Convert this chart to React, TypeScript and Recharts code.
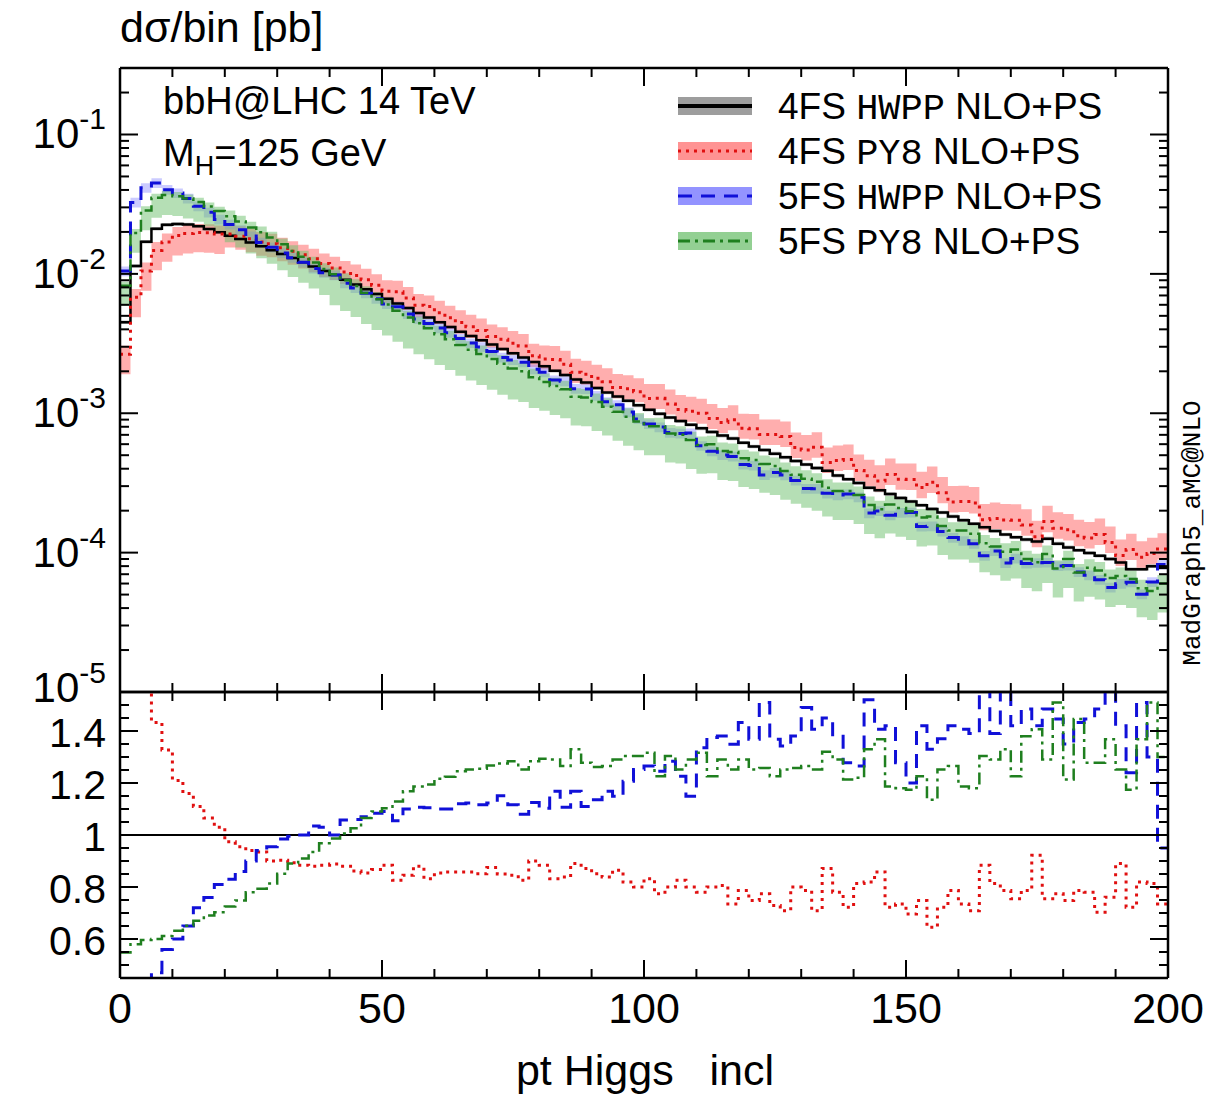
import React from 'react'
import { ComposedChart, Line, Area, XAxis, YAxis, ReferenceLine } from 'recharts'

// 100 bins of 2 GeV, 0-200 GeV
const BIN_WIDTH = 2

// 4FS HWPP NLO+PS, d sigma / bin [pb]
const black = [
  0.0045, 0.0114, 0.017, 0.0211, 0.0225, 0.0228, 0.0226, 0.022, 0.021, 0.0199,
  0.0188, 0.0178, 0.0168, 0.0158, 0.0148, 0.0139, 0.013, 0.0121, 0.0113, 0.0105,
  0.0098, 0.00907, 0.00839, 0.00776, 0.00718, 0.00664, 0.00614, 0.00568, 0.00525, 0.00486,
  0.00449, 0.00416, 0.00385, 0.00358, 0.00334, 0.00311, 0.00289, 0.00269, 0.00251, 0.00233,
  0.00217, 0.00202, 0.00188, 0.00175, 0.00166, 0.00152, 0.00141, 0.00132, 0.00123, 0.00114,
  0.00106, 0.00099, 0.000933, 0.000879, 0.000828, 0.00078, 0.000735, 0.000692, 0.00066, 0.000614,
  0.000578, 0.000545, 0.000513, 0.000483, 0.000455, 0.000429, 0.000404, 0.000386, 0.000357, 0.000336,
  0.000316, 0.000292, 0.00028, 0.000263, 0.000247, 0.000233, 0.000219, 0.000206, 0.000194, 0.000182,
  0.000171, 0.000161, 0.000152, 0.000143, 0.000135, 0.000129, 0.000124, 0.00012, 0.000126, 0.000116,
  0.000109, 0.000104, 0.0000995, 0.000095, 0.00009, 0.000085, 0.000076, 0.000076, 0.00008, 0.000078,
]

// lower panel: 4FS HWPP / X, per bin
const ratioRed = [
  1.7, 1.68, 1.62, 1.433, 1.327, 1.21, 1.16, 1.11, 1.065, 1.03,
  0.974, 0.955, 0.94, 0.935, 0.9, 0.903, 0.893, 0.884, 0.88, 0.884,
  0.888, 0.88, 0.862, 0.854, 0.867, 0.884, 0.826, 0.845, 0.88, 0.832,
  0.854, 0.858, 0.858, 0.858, 0.851, 0.875, 0.85, 0.845, 0.826, 0.9,
  0.884, 0.832, 0.838, 0.89, 0.871, 0.851, 0.838, 0.864, 0.819, 0.8,
  0.832, 0.774, 0.8, 0.826, 0.8, 0.78, 0.8, 0.806, 0.735, 0.787,
  0.748, 0.774, 0.729, 0.709, 0.8, 0.787, 0.709, 0.871, 0.78, 0.722,
  0.813, 0.819, 0.858, 0.722, 0.735, 0.696, 0.748, 0.645, 0.722, 0.787,
  0.735, 0.709, 0.884, 0.813, 0.787, 0.755, 0.787, 0.922, 0.755, 0.774,
  0.748, 0.787, 0.78, 0.703, 0.761, 0.89, 0.722, 0.819, 0.813, 0.735,
]
const ratioBlue = [
  0.43, 0.35, 0.41, 0.47, 0.56, 0.6, 0.65, 0.72, 0.76, 0.81,
  0.83, 0.86, 0.9, 0.94, 0.955, 0.985, 0.995, 1.0, 1.035, 1.03,
  1.0, 1.058, 1.06, 1.07, 1.084, 1.09, 1.055, 1.1, 1.107, 1.105,
  1.1, 1.1, 1.12, 1.123, 1.116, 1.123, 1.151, 1.116, 1.08, 1.125,
  1.103, 1.168, 1.107, 1.168, 1.11, 1.136, 1.168, 1.149, 1.207, 1.252,
  1.265, 1.245, 1.284, 1.226, 1.149, 1.336, 1.375, 1.381, 1.349, 1.433,
  1.368, 1.51, 1.368, 1.342, 1.381, 1.49, 1.407, 1.45, 1.38, 1.278,
  1.265, 1.52, 1.407, 1.42, 1.278, 1.2, 1.42, 1.33, 1.37, 1.42,
  1.407, 1.39, 1.6, 1.39, 1.6, 1.42, 1.485, 1.42, 1.485, 1.446,
  1.35, 1.433, 1.446, 1.485, 1.6, 1.42, 1.239, 1.51, 1.3, 0.95,
]
const ratioGreen = [
  0.548, 0.58, 0.596, 0.6, 0.612, 0.632, 0.651, 0.67, 0.69, 0.703,
  0.725, 0.748, 0.78, 0.793, 0.813, 0.851, 0.89, 0.91, 0.935, 0.968,
  0.987, 1.006, 1.026, 1.065, 1.09, 1.103, 1.129, 1.168, 1.187, 1.194,
  1.216, 1.224, 1.245, 1.252, 1.255, 1.267, 1.275, 1.284, 1.252, 1.284,
  1.293, 1.29, 1.265, 1.33, 1.278, 1.262, 1.265, 1.29, 1.304, 1.304,
  1.316, 1.226, 1.304, 1.252, 1.29, 1.316, 1.226, 1.29, 1.252, 1.29,
  1.252, 1.258, 1.226, 1.252, 1.258, 1.265, 1.252, 1.32, 1.29, 1.213,
  1.22, 1.33, 1.368, 1.187, 1.18, 1.174, 1.226, 1.136, 1.252, 1.265,
  1.187, 1.18, 1.304, 1.29, 1.33, 1.226, 1.38, 1.407, 1.29, 1.51,
  1.213, 1.446, 1.278, 1.278, 1.368, 1.252, 1.174, 1.368, 1.51, 1.3,
]

// uncertainty bands, relative to the central value, one entry per 20 GeV
const redBandUp = [1.15, 1.18, 1.2, 1.22, 1.25, 1.27, 1.28, 1.3, 1.3, 1.3]
const redBandDown = [0.72, 0.8, 0.82, 0.83, 0.84, 0.84, 0.84, 0.84, 0.84, 0.84]
const greenBandUp = [1.07, 1.1, 1.12, 1.15, 1.15, 1.15, 1.15, 1.15, 1.15, 1.15]
const greenBandDown = [0.72, 0.65, 0.6, 0.6, 0.62, 0.62, 0.62, 0.62, 0.62, 0.62]
const blueBandUp = [1.08, 1.08, 1.08, 1.08, 1.08, 1.08, 1.08, 1.08, 1.08, 1.08]
const blueBandDown = [0.92, 0.92, 0.92, 0.92, 0.92, 0.92, 0.92, 0.92, 0.92, 0.92]
const blackBandUp = [1.03, 1.03, 1.03, 1.03, 1.03, 1.03, 1.03, 1.03, 1.03, 1.03]
const blackBandDown = [0.97, 0.97, 0.97, 0.97, 0.97, 0.97, 0.97, 0.97, 0.97, 0.97]

const X_TICKS = [0, 10, 20, 30, 40, 50, 60, 70, 80, 90, 100, 110, 120, 130, 140, 150, 160, 170, 180, 190, 200]
const DECADES = [1e-5, 1e-4, 1e-3, 1e-2, 1e-1]
const LOG_TICKS = DECADES.flatMap(d => [1, 2, 3, 4, 5, 6, 7, 8, 9].map(m => m * d)).filter(v => v <= 0.3)
const RATIO_TICKS = Array.from({ length: 23 }, (_, i) => Math.round((0.45 + i * 0.05) * 100) / 100)
const RATIO_LABELS = [0.6, 0.8, 1, 1.2, 1.4]

const LEGEND = [
  { pre: '4FS ', mono: 'HWPP', post: ' NLO+PS', color: '#000000', band: '#8c8c8c', dash: undefined, width: 4 },
  { pre: '4FS ', mono: 'PY8', post: ' NLO+PS', color: '#e01010', band: '#ff8080', dash: '3 5', width: 3 },
  { pre: '5FS ', mono: 'HWPP', post: ' NLO+PS', color: '#1010d8', band: '#8080ff', dash: '14 9', width: 3 },
  { pre: '5FS ', mono: 'PY8', post: ' NLO+PS', color: '#1f7f1f', band: '#80c880', dash: '12 5 3 5', width: 3 },
]

const rows = black.map((b, i) => {
  const k = Math.floor(i / 10)
  const red = b / ratioRed[i]
  const blue = b / ratioBlue[i]
  const green = b / ratioGreen[i]
  return {
    pt: i * BIN_WIDTH,
    black: b,
    red,
    blue,
    green,
    blackBand: [b * blackBandDown[k], b * blackBandUp[k]],
    redBand: [red * redBandDown[k], red * redBandUp[k]],
    blueBand: [blue * blueBandDown[k], blue * blueBandUp[k]],
    greenBand: [green * greenBandDown[k], green * greenBandUp[k]],
    rRed: ratioRed[i],
    rBlue: ratioBlue[i],
    rGreen: ratioGreen[i],
  }
})
// close the last bin at 200 GeV
rows.push({ ...rows[rows.length - 1], pt: 100 * BIN_WIDTH })

const W = 1215
const H = 1100
const PLOT_L = 120
const PLOT_R = 1168
const TOP_T = 68
const SPLIT = 692
const BOT_B = 978
const AXIS_PX = 1 // axes need a non-zero size to be drawn

const SANS = '"Liberation Sans", Arial, Helvetica, sans-serif'
const MONO = '"Liberation Mono", "DejaVu Sans Mono", monospace'
const AX = { stroke: '#000', strokeWidth: 2.5 }

const isDecade = (v: number) => Math.abs(Math.log10(v) - Math.round(Math.log10(v))) < 1e-9
const isRatioMajor = (v: number) => Math.abs(v * 5 - Math.round(v * 5)) < 1e-6

function bottomTick(withLabel: boolean) {
  return (props: any) => {
    const { x, y, payload } = props
    const major = payload.value % 50 === 0
    return (
      <g>
        <line x1={x} x2={x} y1={y} y2={y - (major ? 18 : 9)} stroke="#000" strokeWidth={2} />
        {withLabel && major && (
          <text x={x} y={y + 45} textAnchor="middle" fontFamily={SANS} fontSize={43} fill="#000">
            {payload.value}
          </text>
        )}
      </g>
    )
  }
}

function topTick(props: any) {
  const { x, y, payload } = props
  const major = payload.value % 50 === 0
  return <line x1={x} x2={x} y1={y} y2={y + (major ? 18 : 9)} stroke="#000" strokeWidth={2} />
}

function logTickLeft(props: any) {
  const { x, y, payload } = props
  const v = payload.value
  const major = isDecade(v)
  const exp = Math.round(Math.log10(v))
  // the 10^-5 label sits on the panel split, keep it clear of the ratio labels
  const dy = exp === -5 ? 10 : 14
  return (
    <g>
      <line x1={x} x2={x + (major ? 18 : 9)} y1={y} y2={y} stroke="#000" strokeWidth={2} />
      {major && (
        <text x={x - 14} y={y + dy} textAnchor="end" fontFamily={SANS} fontSize={42} fill="#000">
          10
          <tspan dy={-19} fontSize={30}>
            {exp}
          </tspan>
        </text>
      )}
    </g>
  )
}

function logTickRight(props: any) {
  const { x, y, payload } = props
  const major = isDecade(payload.value)
  return <line x1={x} x2={x - (major ? 18 : 9)} y1={y} y2={y} stroke="#000" strokeWidth={2} />
}

function ratioTickLeft(props: any) {
  const { x, y, payload } = props
  const v = payload.value
  const major = isRatioMajor(v)
  const label = RATIO_LABELS.find(l => Math.abs(l - v) < 1e-6)
  return (
    <g>
      <line x1={x} x2={x + (major ? 18 : 9)} y1={y} y2={y} stroke="#000" strokeWidth={2} />
      {label !== undefined && (
        <text x={x - 14} y={y + 16} textAnchor="end" fontFamily={SANS} fontSize={41} fill="#000">
          {label === 1 ? '1' : label.toFixed(1)}
        </text>
      )}
    </g>
  )
}

function ratioTickRight(props: any) {
  const { x, y, payload } = props
  const major = isRatioMajor(payload.value)
  return <line x1={x} x2={x - (major ? 18 : 9)} y1={y} y2={y} stroke="#000" strokeWidth={2} />
}

const bandProps = { type: 'stepAfter' as const, stroke: 'none', isAnimationActive: false, fillOpacity: 0.6 }

function margins(top: number, bottom: number) {
  return {
    top: top - AXIS_PX,
    bottom: H - bottom - AXIS_PX,
    left: PLOT_L - AXIS_PX,
    right: W - PLOT_R - AXIS_PX,
  }
}

export default function App() {
  const common = { width: W, height: H, data: rows }
  const xShared = {
    dataKey: 'pt', type: 'number' as const, domain: [0, 200], ticks: X_TICKS, interval: 0 as const,
    allowDataOverflow: true, height: AXIS_PX, tickSize: 0, tickMargin: 0, axisLine: AX, tickLine: false,
  }
  return (
    <div style={{ position: 'absolute', left: 0, top: 0, width: W, height: H, background: '#fff' }}>
      {/* upper panel: distributions */}
      <div style={{ position: 'absolute', left: 0, top: 0 }}>
        <ComposedChart {...common} margin={margins(TOP_T, SPLIT)}>
          <XAxis {...xShared} tick={bottomTick(false)} />
          <XAxis {...xShared} xAxisId="top" orientation="top" tick={topTick} />
          <YAxis scale="log" type="number" domain={[1e-5, 0.3]} ticks={LOG_TICKS} interval={0} allowDataOverflow
            width={AXIS_PX} tickSize={0} tickMargin={0} axisLine={AX} tickLine={false} tick={logTickLeft} />
          <YAxis yAxisId="right" orientation="right" scale="log" type="number" domain={[1e-5, 0.3]} ticks={LOG_TICKS}
            interval={0} allowDataOverflow width={AXIS_PX} tickSize={0} tickMargin={0} axisLine={AX} tickLine={false} tick={logTickRight} />
          <Area dataKey="blackBand" fill="#8c8c8c" {...bandProps} />
          <Area dataKey="redBand" fill="#ff7878" {...bandProps} />
          <Area dataKey="blueBand" fill="#8c8cff" {...bandProps} fillOpacity={0.45} />
          <Area dataKey="greenBand" fill="#6cc06c" {...bandProps} fillOpacity={0.5} />
          <Line dataKey="black" type="stepAfter" stroke="#000" strokeWidth={2.5} dot={false} isAnimationActive={false} />
          <Line dataKey="red" type="stepAfter" stroke="#e01010" strokeWidth={3} strokeDasharray="3 5" dot={false} isAnimationActive={false} />
          <Line dataKey="blue" type="stepAfter" stroke="#1010d8" strokeWidth={3} strokeDasharray="14 9" dot={false} isAnimationActive={false} />
          <Line dataKey="green" type="stepAfter" stroke="#1f7f1f" strokeWidth={2.5} strokeDasharray="12 5 3 5" dot={false} isAnimationActive={false} />
        </ComposedChart>
      </div>

      {/* lower panel: ratios */}
      <div style={{ position: 'absolute', left: 0, top: 0 }}>
        <ComposedChart {...common} margin={margins(SPLIT, BOT_B)}>
          <XAxis {...xShared} tick={bottomTick(true)} />
          <XAxis {...xShared} xAxisId="top" orientation="top" tick={topTick} />
          <YAxis type="number" domain={[0.45, 1.55]} ticks={RATIO_TICKS} interval={0} allowDataOverflow
            width={AXIS_PX} tickSize={0} tickMargin={0} axisLine={AX} tickLine={false} tick={ratioTickLeft} />
          <YAxis yAxisId="right" orientation="right" type="number" domain={[0.45, 1.55]} ticks={RATIO_TICKS}
            interval={0} allowDataOverflow width={AXIS_PX} tickSize={0} tickMargin={0} axisLine={AX} tickLine={false} tick={ratioTickRight} />
          <ReferenceLine y={1} stroke="#000" strokeWidth={2} />
          <Line dataKey="rRed" type="stepAfter" stroke="#e01010" strokeWidth={3} strokeDasharray="3 5" dot={false} isAnimationActive={false} />
          <Line dataKey="rBlue" type="stepAfter" stroke="#1010d8" strokeWidth={3} strokeDasharray="14 9" dot={false} isAnimationActive={false} />
          <Line dataKey="rGreen" type="stepAfter" stroke="#1f7f1f" strokeWidth={2.5} strokeDasharray="12 5 3 5" dot={false} isAnimationActive={false} />
        </ComposedChart>
      </div>

      {/* titles, labels and legend */}
      <svg width={W} height={H} style={{ position: 'absolute', left: 0, top: 0, pointerEvents: 'none' }}>
        <text x={120} y={42} fontFamily={SANS} fontSize={43} fill="#000">dσ/bin [pb]</text>
        <text x={163} y={114} fontFamily={SANS} fontSize={38} fill="#000">bbH@LHC 14 TeV</text>
        <text x={163} y={166} fontFamily={SANS} fontSize={38} fill="#000">
          M<tspan dy={9} fontSize={27}>H</tspan><tspan dy={-9}>=125 GeV</tspan>
        </text>
        {LEGEND.map((l, i) => {
          const cy = 106 + i * 45
          return (
            <g key={i}>
              <rect x={678} y={cy - 9} width={74} height={18} fill={l.band} opacity={0.85} />
              <line x1={678} x2={752} y1={cy} y2={cy} stroke={l.color} strokeWidth={l.width} strokeDasharray={l.dash} />
              <text x={778} y={cy + 13} fontFamily={SANS} fontSize={37} fill="#000" style={{ whiteSpace: 'pre' }}>
                {l.pre}<tspan fontFamily={MONO}>{l.mono}</tspan>{l.post}
              </text>
            </g>
          )
        })}
        <text transform="translate(1200, 533) rotate(-90)" textAnchor="middle" fontFamily={MONO} fontSize={26} fill="#000">
          MadGraph5_aMC@NLO
        </text>
        <text x={645} y={1085} textAnchor="middle" fontFamily={SANS} fontSize={43} fill="#000" style={{ whiteSpace: 'pre' }}>
          pt Higgs   incl
        </text>
      </svg>
    </div>
  )
}
